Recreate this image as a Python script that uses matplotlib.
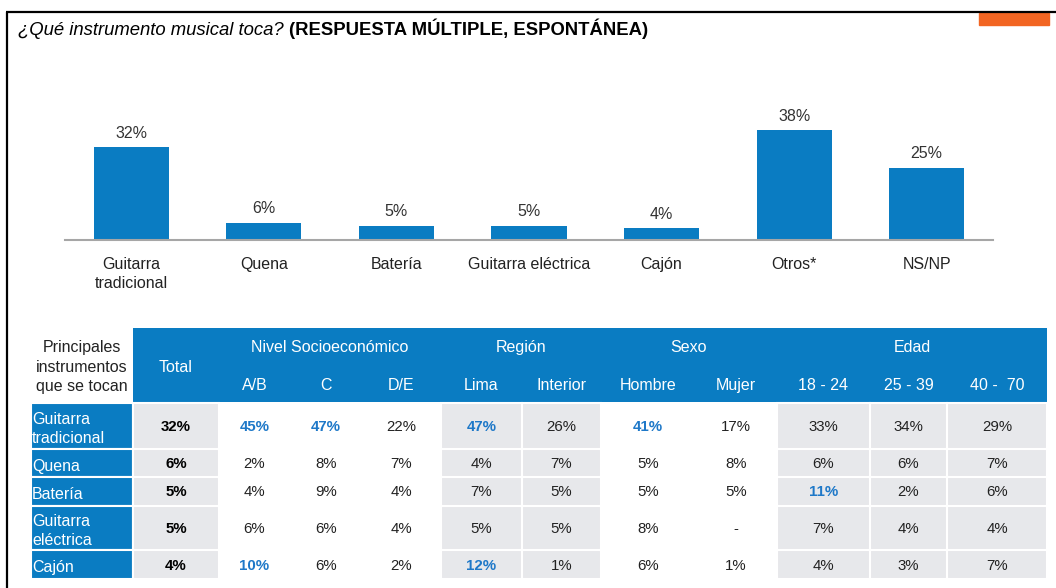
"""
Instrumentos musicales: bar chart + cross table (pixel layout).
"""
import matplotlib
matplotlib.use("Agg")
import matplotlib.pyplot as plt
from matplotlib.patches import Rectangle

plt.rcParams['font.family'] = ['Liberation Sans', 'DejaVu Sans']

# ---- data ----
categories = ['Guitarra\ntradicional', 'Quena', 'Batería', 'Guitarra eléctrica',
              'Cajón', 'Otros*', 'NS/NP']
values = [32, 6, 5, 5, 4, 38, 25]

row_labels = ['Guitarra\ntradicional', 'Quena', 'Batería', 'Guitarra\neléctrica', 'Cajón']
col_labels = ['Total', 'A/B', 'C', 'D/E', 'Lima', 'Interior', 'Hombre', 'Mujer',
              '18 - 24', '25 - 39', '40 -  70']
group_labels = ['Nivel Socioeconómico', 'Región', 'Sexo', 'Edad']
group_spans = [(1, 3), (4, 5), (6, 7), (8, 10)]
guitarra_trad = [32, 45, 47, 22, 47, 26, 41, 17, 33, 34, 29]
quena = [6, 2, 8, 7, 4, 7, 5, 8, 6, 6, 7]
bateria = [5, 4, 9, 4, 7, 5, 5, 5, 11, 2, 6]
guitarra_elec = [5, 6, 6, 4, 5, 5, 8, None, 7, 4, 4]
cajon = [4, 10, 6, 2, 12, 1, 6, 1, 4, 3, 7]
table_values = [guitarra_trad, quena, bateria, guitarra_elec, cajon]
highlights = [(0, 1), (0, 2), (0, 4), (0, 6), (2, 8), (4, 1), (4, 4)]

# ---- style / layout ----
BLUE = '#0A7CC2'
HILITE = '#1E78C8'
GREY = '#E7E8EB'
DARK = '#222222'
W, H = 1056, 588

col_edges = [133, 219, 290, 362, 441, 522, 601, 695, 777, 870, 947, 1047]
shaded = [True, False, False, False, True, True, False, False, True, True, True]
row_edges = [403, 449, 477, 506, 550, 579]
label_x0 = 31
header_top = 328

fig = plt.figure(figsize=(W / 100, H / 100), dpi=100)
fig.patch.set_facecolor('white')

# full-figure overlay in pixel coords
ov = fig.add_axes([0, 0, 1, 1])
ov.set_xlim(0, W)
ov.set_ylim(H, 0)
ov.axis('off')

# frame lines and orange tab
ov.plot([6, W], [12, 12], color='black', lw=1.6, solid_capstyle='butt')
ov.plot([7, 7], [12, H], color='black', lw=1.6, solid_capstyle='butt')
ov.add_patch(Rectangle((979, 13), 70, 12, color='#F26522'))

# title: italic question + bold note, sharing one baseline
t1 = ov.text(18, 35, '¿Qué instrumento musical toca? ', fontsize=13.3,
             style='italic', color='black', va='baseline', ha='left')
fig.canvas.draw()
bb = t1.get_window_extent()
ov.text(bb.x1, 35, '(RESPUESTA MÚLTIPLE, ESPONTÁNEA)', fontsize=13.3,
        weight='bold', color='black', va='baseline', ha='left')

# ---- bar chart ----
ax = fig.add_axes([65 / W, (H - 240) / H, (993 - 65) / W, (240 - 95) / H])
x = range(len(categories))
bars = ax.bar(x, values, width=0.566, color=BLUE)
ax.bar_label(bars, labels=[f'{v}%' for v in values], padding=4.5,
             fontsize=11.5, color='#333333')
ax.set_xlim(-0.5, len(categories) - 0.5)
ax.set_ylim(0, 50)
ax.set_xticks(list(x))
ax.set_xticklabels(categories, fontsize=11.5, color=DARK, linespacing=1.4)
ax.tick_params(axis='x', length=0, pad=12)
ax.set_yticks([])
for s in ['top', 'right', 'left']:
    ax.spines[s].set_visible(False)
ax.spines['bottom'].set_color('#A6A6A6')
ax.spines['bottom'].set_linewidth(1.5)
ax.patch.set_alpha(0)

# ---- table ----
# header block
ov.add_patch(Rectangle((col_edges[0], header_top), col_edges[-1] - col_edges[0],
                       row_edges[0] - 1 - header_top, color=BLUE, lw=0))
ov.text((label_x0 + col_edges[0]) / 2, 367, 'Principales\ninstrumentos\nque se tocan',
        ha='center', va='center', fontsize=11.5, color=DARK, linespacing=1.4)
ov.text((col_edges[0] + col_edges[1]) / 2, 372, col_labels[0], ha='center',
        va='baseline', fontsize=11.5, color='white')
for j in range(1, len(col_labels)):
    cx = (col_edges[j] + col_edges[j + 1]) / 2
    ov.text(cx, 390, col_labels[j], ha='center', va='baseline', fontsize=11.5,
            color='white')
for name, (a, b) in zip(group_labels, group_spans):
    cx = (col_edges[a] + col_edges[b + 1]) / 2
    ov.text(cx, 352, name, ha='center', va='baseline', fontsize=11.5, color='white')

# body rows
for i, label in enumerate(row_labels):
    y0, y1 = row_edges[i], row_edges[i + 1]
    ov.add_patch(Rectangle((label_x0, y0), col_edges[0] - label_x0, y1 - y0,
                           facecolor=BLUE, edgecolor='white', lw=1.5))
    ov.text(label_x0 + 1, (y0 + y1) / 2 + 3, label, ha='left', va='center',
            fontsize=11.5, color='white', linespacing=1.3)
    for j, v in enumerate(table_values[i]):
        x0, x1 = col_edges[j], col_edges[j + 1]
        if shaded[j]:
            ov.add_patch(Rectangle((x0, y0), x1 - x0, y1 - y0,
                                   facecolor=GREY, edgecolor='white', lw=1.5))
        txt = '-' if v is None else f'{v}%'
        if (i, j) in highlights:
            color, weight = HILITE, 'bold'
        elif j == 0:
            color, weight = 'black', 'bold'
        else:
            color, weight = DARK, 'normal'
        ov.text((x0 + x1) / 2, (y0 + y1) / 2 + 1, txt, ha='center', va='center',
                fontsize=10.8, color=color, weight=weight)

fig.savefig('out.png', dpi=100, facecolor='white')
